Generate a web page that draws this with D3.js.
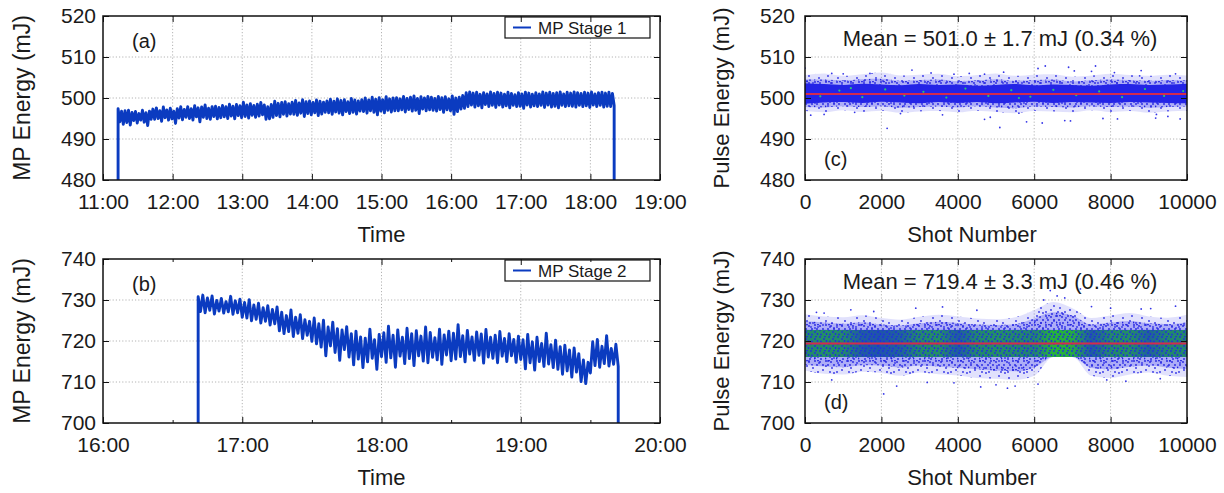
<!DOCTYPE html>
<html><head><meta charset="utf-8">
<script src="https://cdn.jsdelivr.net/npm/d3@7/dist/d3.min.js"></script>
<style>
body{margin:0;background:#fff;}
svg text{font-family:"Liberation Sans",Arial,Helvetica,sans-serif;fill:#1a1a1a;}
</style></head><body>
<svg id="fig" width="1224" height="493"></svg>
<script>
// ---------------- DATA ----------------
// Panel (a): MP Stage 1, energy (mJ) sampled every 1.5 min from 11:13
const stage1Start = "11:13";
const stage1StepMin = 1.5;
const stage1Energy = [
497.4,494.2,496.8,493.6,496.9,494.0,497.0,493.4,496.5,494.5,496.7,493.9,496.2,494.6,497.0,494.1,496.4,493.3,496.8,494.8,
497.3,494.8,497.6,495.0,496.9,494.3,497.8,495.2,497.1,494.6,497.5,494.9,496.8,493.8,497.4,495.1,497.9,494.7,497.2,495.3,
497.9,495.0,497.4,494.6,498.1,495.4,497.6,494.2,497.8,495.3,498.3,495.0,497.5,494.8,497.9,495.5,498.0,494.9,497.7,495.2,
498.2,495.4,497.9,495.0,498.5,495.6,498.0,494.9,498.4,495.7,498.1,495.2,499.0,495.5,498.3,495.1,498.6,495.8,498.2,495.3,
498.5,495.6,498.9,495.9,498.3,494.8,497.9,494.9,498.4,495.3,499.2,495.7,498.7,495.4,498.9,496.0,499.1,495.6,498.6,496.1,
499.0,496.0,499.4,495.8,498.8,496.3,499.6,495.5,499.1,496.2,499.3,495.9,498.9,496.4,499.5,495.7,499.2,496.1,499.0,496.5,
499.3,496.4,499.7,496.0,499.2,496.6,499.8,496.3,499.4,495.9,499.6,496.7,499.1,496.2,499.9,496.5,499.5,496.1,499.3,496.8,
499.6,496.7,500.0,496.3,499.5,496.9,500.2,496.5,499.7,495.9,500.1,496.8,499.6,496.4,500.3,497.0,499.8,496.6,500.0,496.9,
500.1,496.9,499.8,497.1,500.4,496.6,499.9,497.2,500.2,496.8,500.5,497.0,499.9,496.2,500.3,497.3,500.0,496.9,500.4,497.1,
500.2,497.0,499.9,496.8,500.4,497.2,500.1,496.5,500.3,497.1,499.8,496.9,500.5,496.0,500.0,496.7,500.2,497.3,500.6,497.5,
501.3,497.9,501.5,498.3,501.2,497.8,501.4,498.1,500.9,497.6,501.3,498.4,501.0,497.9,501.5,498.2,501.1,497.7,501.4,498.3,
501.2,497.8,500.9,498.1,501.4,497.6,501.1,498.2,500.8,497.9,501.3,498.0,501.0,497.5,501.4,498.3,501.2,497.8,500.9,498.1,
501.3,497.9,501.0,498.2,501.5,497.7,501.2,498.3,501.4,497.8,501.1,498.0,501.3,497.6,501.5,498.2,501.0,497.9,501.4,498.1,
501.2,498.0,501.5,497.8,501.3,498.2,501.1,497.9,501.4,498.1,501.2,497.7,501.5,498.3,501.0,497.9,501.3,498.2,501.4,497.8,
501.2,498.0,501.4,497.9,501.1,498.2
];
const stage1OffLevel = 480;
const stage1YTicks = [480, 490, 500, 510, 520];
const stage1XTicks = ["11:00","12:00","13:00","14:00","15:00","16:00","17:00","18:00","19:00"];

// Panel (b): MP Stage 2, energy (mJ) sampled every 1 min from 16:41
const stage2Start = "16:41";
const stage2StepMin = 1;
const stage2Energy = [
730.8,727.2,731.2,726.9,730.5,727.5,731.0,726.6,729.9,727.3,730.4,726.8,729.6,727.1,730.9,726.5,729.8,726.9,730.2,725.8,
729.4,725.6,730.1,724.9,728.8,725.3,729.2,724.4,728.1,724.8,728.6,723.9,727.7,724.2,728.3,
722.5,727.0,721.8,726.2,722.3,727.6,721.1,725.8,721.9,726.4,720.6,725.2,721.4,724.8,719.9,
725.6,719.3,724.2,718.5,725.1,716.4,723.4,718.8,724.6,717.2,723.0,715.3,722.7,717.9,723.5,
716.1,721.8,714.2,722.4,715.6,721.0,713.5,720.7,714.9,722.9,715.8,720.3,713.1,721.6,716.2,
722.0,714.8,723.6,715.9,721.4,713.6,722.7,716.3,720.9,714.5,723.1,715.7,721.8,714.0,722.5,716.4,721.2,715.1,723.4,714.7,722.1,716.0,720.8,715.4,722.9,714.3,721.5,716.6,722.4,715.2,
721.9,715.6,724.0,716.2,721.3,714.9,722.6,716.8,721.0,715.3,722.2,716.5,721.7,714.6,722.8,716.1,720.9,715.8,721.4,714.7,722.3,716.3,720.6,715.0,721.8,716.4,720.4,714.8,721.2,715.5,
720.3,713.2,721.6,714.7,719.8,712.9,720.9,715.0,719.4,713.8,721.9,714.4,719.1,713.5,720.2,
713.1,718.6,711.9,719.0,712.7,717.8,711.2,718.3,712.4,716.9,710.1,715.4,709.6,714.8,712.2,
719.8,714.0,720.4,713.6,718.7,714.5,721.3,713.9,718.2,714.3,719.2,713.8
];
const stage2OffLevel = 700;
const stage2YTicks = [700, 710, 720, 730, 740];
const stage2XTicks = ["16:00","17:00","18:00","19:00","20:00"];
const stage2MinorTicks = ["16:30","17:30","18:30","19:30"];

// Shot-number panels (c) and (d)
const shotTicks = [0, 2000, 4000, 6000, 8000, 10000];
const binShots = [0,500,1000,1500,2000,2500,3000,3500,4000,4500,5000,5500,6000,6500,7000,7500,8000,8500,9000,9500,10000];

// (c) Stage 1 shot-to-shot: mean, sigma, dense core / halo envelopes, sparse points
const cMean = 501.0, cSigma = 1.7, cPercent = 0.34;
const cYTicks = [480, 490, 500, 510, 520];
const cCoreHi = [503.6,503.4,503.2,503.5,503.3,503.1,503.4,503.2,503.3,503.0,503.2,503.4,503.1,503.3,503.2,503.0,503.3,503.4,503.2,503.3,503.5];
const cCoreLo = [498.6,498.9,499.0,498.8,499.1,498.9,498.7,499.0,498.8,499.0,498.7,498.9,499.1,498.8,499.0,498.9,498.8,499.0,498.9,498.8,498.7];
const cInnerHi = [504.6,504.5,504.3,504.6,504.7,504.2,504.4,504.5,504.1,504.3,504.6,504.2,504.4,504.5,504.0,504.3,504.5,504.4,504.2,504.4,504.3];
const cInnerLo = [497.8,497.7,498.0,497.8,498.0,497.6,497.8,497.9,497.7,498.0,497.7,497.5,497.9,497.8,497.7,498.0,497.8,497.9,497.6,497.8,497.9];
const cHaloHi = [505.6,506.0,505.4,505.8,506.2,505.5,505.7,505.9,505.3,505.6,506.0,505.4,505.7,505.8,505.2,505.5,505.9,505.6,505.4,505.7,505.5];
const cHaloLo = [496.8,496.5,497.0,496.6,496.9,496.4,496.7,496.8,496.5,496.9,496.6,496.3,496.8,496.7,496.5,497.0,496.6,496.8,496.4,496.7,496.9];
const cOutShot = [0,150,500,700,1300,1700,2150,2800,3300,3900,4700,4700,4850,5100,5200,5800,6100,6210,6290,6800,6900,6950,7050,7500,7605,7800,8100,8180,8760,8800,9180,9200,9500,9700,9820,2500,3600,4300,1000,5600];
const cOutEnergy = [507.3,495.8,496.0,506.0,496.5,506.0,492.6,506.8,506.1,505.8,494.8,505.8,495.3,492.8,506.3,494.2,507.2,493.9,507.8,494.5,507.5,494.4,506.6,506.5,507.8,495.0,506.2,494.9,505.4,506.7,495.1,496.0,495.5,505.9,494.9,496.2,495.9,506.0,505.9,496.3];
const cGreenShot = [400,900,1500,2100,2600,3100,3700,4200,4800,5400,5900,6500,7100,7700,8300,8900,9400,9900,1200,5600];
const cGreenEnergy = [500.4,501.8,500.2,502.1,500.6,501.5,500.1,502.3,500.5,501.9,500.3,502.0,500.7,501.6,500.2,502.2,500.5,501.7,502.4,500.0];

// (d) Stage 2 shot-to-shot
const dMean = 719.4, dSigma = 3.3, dPercent = 0.46;
const dYTicks = [700, 710, 720, 730, 740];
const dHaloHi = [726.5,726.0,725.8,726.3,725.6,725.2,725.9,726.4,726.0,725.5,725.3,725.8,727.5,729.5,728.0,725.6,726.2,726.8,726.0,725.7,726.4];
const dHaloLo = [712.8,712.0,711.8,712.5,712.2,711.5,712.3,711.9,711.6,711.0,710.8,710.5,711.5,716.1,716.1,711.5,711.0,711.8,712.3,711.5,711.2];
const dInnerHi = [724.8,724.5,724.2,724.6,724.0,723.8,724.3,724.7,724.4,724.0,723.9,724.1,725.5,727.0,726.2,724.0,724.5,724.9,724.3,724.1,724.6];
const dInnerLo = [714.2,713.8,713.6,714.1,714.0,713.5,714.0,713.7,713.4,713.1,712.8,712.6,713.5,716.1,716.1,713.4,713.1,713.7,714.0,713.5,713.2];
const dGreenLevel = [0.6,0.65,0.6,0.3,0.25,0.35,0.6,0.65,0.3,0.6,0.65,0.6,0.55,0.9,0.85,0.3,0.6,0.65,0.35,0.6,0.6];
const dOutShot = [300,700,1200,2060,2400,2900,3600,3900,4500,4600,5000,5500,6100,6420,6600,6800,7210,7900,8000,8800,9300,9700,1800,3200,5300,6250,7500,8400,9050,500];
const dOutEnergy = [727.0,710.5,727.6,707.1,709.0,728.0,728.3,709.8,727.5,708.8,709.3,709.0,709.5,732.3,731.0,730.5,732.7,710.5,728.0,727.8,710.8,728.5,727.2,709.9,708.5,730.0,728.4,710.2,727.9,726.8];

// ---------------- DRAWING ----------------
const svg = d3.select("#fig");
const FONT_TICK = 21, FONT_TITLE = 22;
const parseHM = s => { const [h, m] = s.split(":").map(Number); return h + m / 60; };

// speckle patterns used to render dense point clouds
const defs = svg.append("defs");
function dotPattern(id, w, h, dots, color, r) {
  const p = defs.append("pattern").attr("id", id).attr("patternUnits", "userSpaceOnUse").attr("width", w).attr("height", h);
  dots.forEach(([cx, cy]) => p.append("circle").attr("cx", cx).attr("cy", cy).attr("r", r).attr("fill", color));
}
dotPattern("spSparse", 19, 15, [[2,3],[11,1],[15,8],[6,10],[9,6],[17,13],[1,12],[13,12]], "#2f2fe6", 0.9);
dotPattern("spDense", 11, 9, [[1,1],[6,2],[9,5],[3,5],[7,8],[0.5,7.5],[4,0.5]], "#2222e0", 0.9);
dotPattern("spCore", 9, 7, [[1,1],[5,3],[2,5.5],[7.5,5],[6,0.5]], "#1f2ee0", 0.9);

function gridLines(g, x, y, box, xVals, yVals) {
  const {left, right, top, bottom} = box;
  const grid = g.append("g");
  xVals.slice(1, -1).forEach(v => grid.append("line")
    .attr("x1", x(v)).attr("x2", x(v)).attr("y1", top).attr("y2", bottom));
  yVals.slice(1, -1).forEach(v => grid.append("line")
    .attr("x1", left).attr("x2", right).attr("y1", y(v)).attr("y2", y(v)));
  grid.selectAll("line").attr("stroke", "#b4b4b4").attr("stroke-width", 1).attr("stroke-dasharray", "1.2,2");
}

function drawAxes(g, x, y, box, xVals, xFmt, yVals, opts) {
  const {left, right, top, bottom} = box;
  const ax = g.append("g").attr("transform", `translate(0,${bottom})`)
    .call(d3.axisBottom(x).tickValues(xVals).tickFormat(xFmt).tickSize(-6).tickSizeOuter(0).tickPadding(opts.xPad));
  g.append("g").attr("transform", `translate(0,${top})`)
    .call(d3.axisTop(x).tickValues(xVals).tickFormat("").tickSize(-6).tickSizeOuter(0));
  const ay = g.append("g").attr("transform", `translate(${left},0)`)
    .call(d3.axisLeft(y).tickValues(yVals).tickSize(-6).tickSizeOuter(0).tickPadding(opts.yPad));
  g.append("g").attr("transform", `translate(${right},0)`)
    .call(d3.axisRight(y).tickValues(yVals).tickFormat("").tickSize(-6).tickSizeOuter(0));
  if (opts.minorX) {
    g.append("g").attr("transform", `translate(0,${bottom})`)
      .call(d3.axisBottom(x).tickValues(opts.minorX).tickFormat("").tickSize(-3).tickSizeOuter(0));
    g.append("g").attr("transform", `translate(0,${top})`)
      .call(d3.axisTop(x).tickValues(opts.minorX).tickFormat("").tickSize(-3).tickSizeOuter(0));
  }
  g.selectAll(".domain").remove();
  g.selectAll(".tick line").attr("stroke", "#111").attr("stroke-width", 1);
  [ax, ay].forEach(a => a.selectAll("text").attr("font-size", FONT_TICK).attr("fill", "#1a1a1a")
    .style("font-family", '"Liberation Sans", Arial, sans-serif'));
  g.append("rect").attr("x", left).attr("y", top).attr("width", right - left).attr("height", bottom - top)
    .attr("fill", "none").attr("stroke", "#111").attr("stroke-width", 1.5);
}

function timePanel(p) {
  const g = svg.append("g");
  const box = p.box;
  const xVals = p.xTicks.map(parseHM);
  const x = d3.scaleLinear().domain([xVals[0], xVals[xVals.length - 1]]).range([box.left, box.right]);
  const y = d3.scaleLinear().domain([p.yTicks[0], p.yTicks[p.yTicks.length - 1]]).range([box.bottom, box.top]);
  gridLines(g, x, y, box, xVals, p.yTicks);
  const t0 = parseHM(p.start);
  const pts = [{t: t0, e: p.off}];
  p.values.forEach((e, i) => pts.push({t: t0 + i * p.step / 60, e}));
  pts.push({t: t0 + (p.values.length - 1) * p.step / 60, e: p.off});
  const clipId = "clip" + p.id;
  g.append("clipPath").attr("id", clipId).append("rect")
    .attr("x", box.left).attr("y", box.top).attr("width", box.right - box.left).attr("height", box.bottom - box.top);
  g.append("path").datum(pts).attr("clip-path", `url(#${clipId})`)
    .attr("fill", "none").attr("stroke", "#0b3bc0").attr("stroke-width", 2.9).attr("stroke-linejoin", "round")
    .attr("d", d3.line().x(d => x(d.t)).y(d => y(d.e)));
  // legend
  const lg = g.append("g");
  lg.append("rect").attr("x", p.legend.x).attr("y", box.top + 1).attr("width", p.legend.w).attr("height", 21)
    .attr("fill", "#fff").attr("stroke", "#111").attr("stroke-width", 1.2);
  lg.append("line").attr("x1", p.legend.x + 8).attr("x2", p.legend.x + 26)
    .attr("y1", box.top + 11.5).attr("y2", box.top + 11.5).attr("stroke", "#0b3bc0").attr("stroke-width", 2);
  lg.append("text").attr("x", p.legend.x + 33).attr("y", box.top + 17.5).attr("font-size", 17).text(p.name);
  g.append("text").attr("x", box.left + 29).attr("y", box.top + p.letterDy).attr("font-size", 20).text(p.letter);
  drawAxes(g, x, y, box, xVals, (d, i) => p.xTicks[i], p.yTicks,
    {xPad: 14, yPad: 7, minorX: p.minorTicks ? p.minorTicks.map(parseHM) : null});
  g.append("text").attr("x", (box.left + box.right) / 2).attr("y", box.bottom + 62)
    .attr("text-anchor", "middle").attr("font-size", FONT_TITLE).text("Time");
  g.append("text").attr("transform", `translate(30,${(box.top + box.bottom) / 2}) rotate(-90)`)
    .attr("text-anchor", "middle").attr("font-size", 23).text("MP Energy (mJ)");
}

function shotPanel(p) {
  const g = svg.append("g");
  const box = p.box;
  const x = d3.scaleLinear().domain([shotTicks[0], shotTicks[shotTicks.length - 1]]).range([box.left, box.right]);
  const y = d3.scaleLinear().domain([p.yTicks[0], p.yTicks[p.yTicks.length - 1]]).range([box.bottom, box.top]);
  gridLines(g, x, y, box, shotTicks, p.yTicks);
  const clipId = "clip" + p.id;
  g.append("clipPath").attr("id", clipId).append("rect")
    .attr("x", box.left).attr("y", box.top).attr("width", box.right - box.left).attr("height", box.bottom - box.top);
  const d = g.append("g").attr("clip-path", `url(#${clipId})`);
  const area = (lo, hi) => d3.area().x((s, i) => x(binShots[i])).y0((s, i) => y(lo[i])).y1((s, i) => y(hi[i]))
    .curve(d3.curveMonotoneX)(binShots);
  // outer sparse cloud
  d.append("path").attr("d", area(p.haloLo, p.haloHi)).attr("fill", "#5a5af0").attr("opacity", 0.18);
  d.append("path").attr("d", area(p.haloLo, p.haloHi)).attr("fill", "url(#spSparse)");
  // inner denser cloud
  d.append("path").attr("d", area(p.innerLo, p.innerHi)).attr("fill", "#4040ec").attr("opacity", 0.32);
  d.append("path").attr("d", area(p.innerLo, p.innerHi)).attr("fill", "url(#spDense)");
  if (p.coreLo) {
    d.append("path").attr("d", area(p.coreLo, p.coreHi)).attr("fill", "#2424e6");
  }
  if (p.greenLevel) {
    const yTop = y(p.mean + p.sigma), hBand = y(p.mean - p.sigma) - y(p.mean + p.sigma);
    const gid = "grad" + p.id, mid = "mask" + p.id;
    const grad = defs.append("linearGradient").attr("id", gid).attr("gradientUnits", "userSpaceOnUse")
      .attr("x1", box.left).attr("x2", box.right).attr("y1", 0).attr("y2", 0);
    binShots.forEach((s, i) => grad.append("stop").attr("offset", s / 10000)
      .attr("stop-color", "#fff").attr("stop-opacity", p.greenLevel[i]));
    defs.append("mask").attr("id", mid).attr("maskUnits", "userSpaceOnUse")
      .append("rect").attr("x", box.left).attr("width", box.right - box.left).attr("y", yTop).attr("height", hBand)
      .attr("fill", `url(#${gid})`);
    d.append("rect").attr("x", box.left).attr("width", box.right - box.left).attr("y", yTop).attr("height", hBand)
      .attr("fill", "#1c30d8");
    d.append("rect").attr("x", box.left).attr("width", box.right - box.left).attr("y", yTop).attr("height", hBand)
      .attr("fill", "#27c227").attr("mask", `url(#${mid})`);
    d.append("rect").attr("x", box.left).attr("width", box.right - box.left).attr("y", yTop).attr("height", hBand)
      .attr("fill", "url(#spCore)");
  }
  d.selectAll("circle.out").data(p.outShot).enter().append("circle").attr("class", "out")
    .attr("cx", s => x(s)).attr("cy", (s, i) => y(p.outEnergy[i])).attr("r", 0.9).attr("fill", "#3535e8");
  if (p.greenShot) d.selectAll("circle.gr").data(p.greenShot).enter().append("circle").attr("class", "gr")
    .attr("cx", s => x(s)).attr("cy", (s, i) => y(p.greenEnergy[i])).attr("r", 1.1).attr("fill", "#2bbf7a");
  d.append("line").attr("x1", x(shotTicks[0])).attr("x2", x(shotTicks[shotTicks.length - 1]))
    .attr("y1", y(p.mean)).attr("y2", y(p.mean)).attr("stroke", "#d42a4e").attr("stroke-width", 2);
  drawAxes(g, x, y, box, shotTicks, d3.format("d"), p.yTicks, {xPad: 14, yPad: 10});
  g.append("text").attr("x", 1000).attr("y", box.top + 30).attr("text-anchor", "middle").attr("font-size", 22)
    .text(`Mean = ${p.mean.toFixed(1)} \u00b1 ${p.sigma.toFixed(1)} mJ (${p.percent.toFixed(2)} %)`);
  g.append("text").attr("x", box.left + 19).attr("y", box.top + 150).attr("font-size", 20).text(p.letter);
  g.append("text").attr("x", 972).attr("y", box.bottom + 62).attr("text-anchor", "middle")
    .attr("font-size", FONT_TITLE).text("Shot Number");
  g.append("text").attr("transform", `translate(729,${(box.top + box.bottom) / 2}) rotate(-90)`)
    .attr("text-anchor", "middle").attr("font-size", FONT_TITLE).text("Pulse Energy (mJ)");
}

timePanel({id: "a", box: {left: 103, right: 660, top: 16, bottom: 180}, xTicks: stage1XTicks, yTicks: stage1YTicks,
  start: stage1Start, step: stage1StepMin, values: stage1Energy, off: stage1OffLevel,
  name: "MP Stage 1", letter: "(a)", letterDy: 32, legend: {x: 505, w: 145}});
timePanel({id: "b", box: {left: 103, right: 660, top: 259, bottom: 423}, xTicks: stage2XTicks, yTicks: stage2YTicks,
  start: stage2Start, step: stage2StepMin, values: stage2Energy, off: stage2OffLevel,
  name: "MP Stage 2", letter: "(b)", letterDy: 32, legend: {x: 505, w: 145}, minorTicks: stage2MinorTicks});
shotPanel({id: "c", box: {left: 805, right: 1187, top: 16, bottom: 180}, yTicks: cYTicks,
  mean: cMean, sigma: cSigma, percent: cPercent, letter: "(c)",
  coreLo: cCoreLo, coreHi: cCoreHi, innerLo: cInnerLo, innerHi: cInnerHi, haloLo: cHaloLo, haloHi: cHaloHi,
  outShot: cOutShot, outEnergy: cOutEnergy, greenShot: cGreenShot, greenEnergy: cGreenEnergy});
shotPanel({id: "d", box: {left: 805, right: 1187, top: 259, bottom: 423}, yTicks: dYTicks,
  mean: dMean, sigma: dSigma, percent: dPercent, letter: "(d)",
  innerLo: dInnerLo, innerHi: dInnerHi, haloLo: dHaloLo, haloHi: dHaloHi, greenLevel: dGreenLevel,
  outShot: dOutShot, outEnergy: dOutEnergy});
</script>
</body></html>
